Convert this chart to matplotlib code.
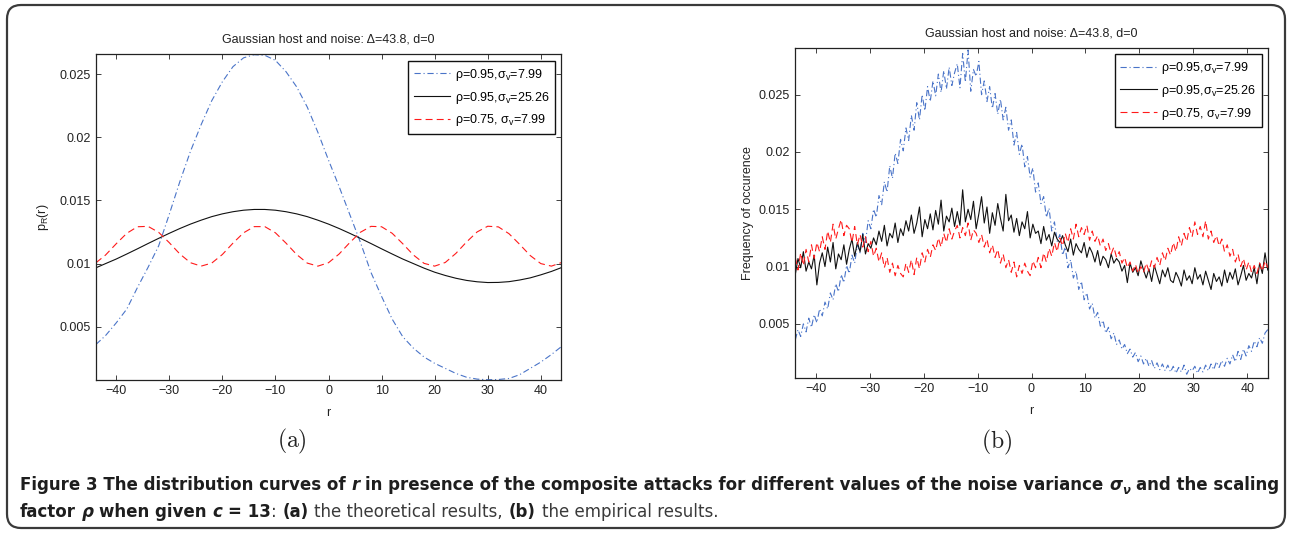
import os
import numpy as np
import matplotlib
matplotlib.use("Agg")
import matplotlib.pyplot as plt
from matplotlib import font_manager
from matplotlib.font_manager import FontProperties
from matplotlib.patches import FancyBboxPatch

# ---------------- data ----------------
title_text = "Gaussian host and noise: \u0394=43.8, d=0"
legend_labels = ["\u03c1=0.95,\u03c3$_{\\mathregular{v}}$=7.99",
                 "\u03c1=0.95,\u03c3$_{\\mathregular{v}}$=25.26",
                 "\u03c1=0.75, \u03c3$_{\\mathregular{v}}$=7.99"]
xticks = [-40, -30, -20, -10, 0, 10, 20, 30, 40]
yticks = [0.005, 0.01, 0.015, 0.02, 0.025]
ytick_labels = ["0.005", "0.01", "0.015", "0.02", "0.025"]

# theoretical curves (panel a)
r_theory = [-43.8, -42, -40, -38, -36, -34, -32, -30, -28, -26, -24, -22, -20, -18, -16,
            -14, -12, -10, -8, -6, -4, -2, 0, 2, 4, 6, 8, 10, 12, 14, 16, 18, 20, 22, 24,
            26, 28, 30, 32, 34, 36, 38, 40, 42, 43.8]
theory_blue = [0.0036, 0.0043, 0.0053, 0.0064, 0.0081, 0.0097, 0.0114, 0.0139, 0.0165,
               0.0189, 0.0210, 0.0229, 0.0244, 0.0256, 0.0263, 0.02655, 0.0265, 0.0261,
               0.0252, 0.0240, 0.0224, 0.0204, 0.0182, 0.0161, 0.0139, 0.0117, 0.0093,
               0.0074, 0.0056, 0.0042, 0.0033, 0.0026, 0.0021, 0.0017, 0.0013, 0.0010,
               0.00085, 0.0008, 0.00082, 0.0009, 0.0012, 0.0017, 0.0022, 0.0028, 0.0034]
theory_black = [0.00967, 0.01000, 0.01036, 0.01076, 0.01117, 0.01159, 0.01200, 0.01240,
                0.01278, 0.01313, 0.01344, 0.01372, 0.01394, 0.01411, 0.01423, 0.01429,
                0.01429, 0.01423, 0.01411, 0.01394, 0.01372, 0.01344, 0.01313, 0.01278,
                0.01240, 0.01200, 0.01159, 0.01117, 0.01076, 0.01036, 0.01000, 0.00964,
                0.00932, 0.00906, 0.00884, 0.00867, 0.00856, 0.00850, 0.00851, 0.00857,
                0.00870, 0.00887, 0.00911, 0.00938, 0.00967]
theory_red = [0.01007, 0.01068, 0.01157, 0.01240, 0.01292, 0.01295, 0.01248, 0.01166,
              0.01076, 0.01007, 0.00980, 0.01004, 0.01072, 0.01162, 0.01244, 0.01293,
              0.01293, 0.01244, 0.01162, 0.01072, 0.01004, 0.00980, 0.01007, 0.01076,
              0.01166, 0.01248, 0.01295, 0.01292, 0.01240, 0.01157, 0.01068, 0.01002,
              0.00980, 0.01009, 0.01081, 0.01171, 0.01251, 0.01296, 0.01291, 0.01237,
              0.01153, 0.01064, 0.01000, 0.00980, 0.01007]

# empirical frequencies (panel b), bins of width 0.5 from -43.75 to 43.75, in units of 1e-4
r_emp = np.arange(-43.75, 43.76, 0.5)
emp_blue_e4 = [36, 45, 39, 50, 43, 55, 47, 58, 51, 63,
               57, 69, 63, 77, 71, 85, 78, 93, 86, 101,
               94, 110, 103, 119, 112, 129, 121, 140, 133, 150,
               143, 162, 154, 174, 165, 188, 177, 199, 190, 211,
               201, 221, 210, 232, 219, 243, 228, 250, 236, 257,
               244, 262, 249, 268, 252, 271, 255, 274, 258, 269,
               277, 256, 286, 261, 289, 253, 272, 266, 279, 250,
               262, 244, 257, 238, 251, 233, 246, 228, 239, 219,
               228, 206, 217, 198, 207, 187, 196, 178, 186, 165,
               173, 155, 161, 143, 151, 131, 139, 122, 128, 110,
               117, 99, 106, 90, 96, 80, 87, 71, 77, 63,
               68, 55, 60, 48, 53, 42, 47, 37, 42, 32,
               36, 28, 32, 24, 28, 21, 25, 17, 22, 15,
               20, 13, 18, 11, 16, 10, 15, 9, 14, 8,
               13, 7, 12, 8, 14, 6, 11, 9, 13, 7,
               12, 8, 14, 9, 15, 10, 17, 12, 18, 13,
               20, 15, 23, 17, 26, 19, 28, 22, 31, 26,
               35, 30, 38, 33, 42, 45]
emp_black_e4 = [93, 107, 99, 113, 96, 104, 98, 110, 84, 103,
                112, 100, 117, 104, 121, 98, 111, 106, 119, 102,
                115, 124, 109, 121, 113, 128, 111, 120, 116, 125,
                119, 131, 122, 136, 118, 129, 125, 138, 121, 133,
                127, 140, 131, 145, 129, 138, 152, 126, 141, 133,
                146, 132, 149, 137, 158, 131, 144, 139, 151, 135,
                148, 136, 167, 139, 150, 141, 157, 133, 146, 161,
                138, 152, 129, 147, 136, 155, 142, 131, 163, 140,
                145, 130, 142, 127, 139, 133, 148, 125, 137, 129,
                131, 120, 135, 123, 128, 118, 130, 124, 121, 127,
                119, 113, 124, 110, 120, 115, 112, 121, 108, 117,
                112, 104, 114, 101, 109, 106, 99, 111, 103, 107,
                104, 96, 101, 86, 103, 95, 99, 92, 105, 97,
                90, 98, 87, 101, 93, 85, 97, 91, 99, 88,
                86, 95, 90, 83, 97, 88, 92, 85, 99, 89,
                93, 84, 96, 88, 80, 94, 87, 91, 83, 97,
                86, 95, 89, 98, 84, 92, 101, 88, 94, 90,
                99, 85, 103, 94, 112, 97]
emp_red_e4 = [108, 97, 112, 101, 115, 104, 119, 107, 121, 113,
              126, 115, 131, 121, 137, 124, 133, 141, 127, 136,
              133, 121, 135, 119, 128, 117, 126, 113, 122, 109,
              116, 104, 112, 99, 108, 95, 103, 92, 101, 94,
              91, 103, 95, 106, 93, 108, 98, 112, 104, 115,
              108, 119, 114, 125, 117, 129, 121, 133, 124, 131,
              136, 125, 134, 127, 138, 123, 132, 129, 121, 128,
              117, 124, 112, 119, 108, 115, 103, 111, 99, 106,
              95, 104, 91, 101, 94, 103, 96, 92, 105, 99,
              108, 99, 112, 104, 116, 109, 121, 113, 125, 118,
              129, 121, 133, 124, 137, 126, 134, 128, 136, 123,
              131, 122, 127, 118, 124, 114, 120, 111, 117, 108,
              113, 103, 108, 99, 104, 96, 102, 94, 100, 95,
              103, 96, 105, 99, 108, 101, 112, 105, 116, 110,
              121, 113, 126, 118, 129, 122, 134, 126, 139, 128,
              135, 126, 140, 124, 131, 121, 127, 118, 124, 113,
              119, 109, 115, 104, 111, 100, 107, 97, 104, 95,
              101, 94, 103, 96, 105, 99]

# ---------------- style ----------------
W, H = 1291, 533


def have_font(name):
    try:
        font_manager.findfont(FontProperties(family=name), fallback_to_default=False)
        return True
    except Exception:
        return False


SANS = "Liberation Sans" if have_font("Liberation Sans") else "DejaVu Sans"


def weight_num(w):
    if isinstance(w, (int, float)):
        return int(w)
    table = {"ultralight": 200, "light": 300, "normal": 400, "regular": 400, "book": 400,
             "medium": 500, "roman": 400, "semibold": 600, "demibold": 600, "demi": 600,
             "bold": 700, "heavy": 800, "extra bold": 800, "black": 900}
    return table.get(str(w).lower(), 400)


def find_condensed(bold, italic):
    prefs = ["liberation sans narrow", "dejavu sans", "open sans", "roboto", "noto sans", "lato"]
    best = None
    for f in font_manager.fontManager.ttflist:
        fn = os.path.basename(f.fname).lower()
        name = f.name.lower()
        if "mono" in fn or "serif" in fn or "mono" in name or "serif" in name:
            continue
        cond = ("narrow" in fn or "condensed" in fn or "narrow" in name or "condensed" in name
                or str(f.stretch) in ("condensed", "semi-condensed", "extra-condensed"))
        if not cond or "extra" in fn or "semi" in fn:
            continue
        fi = str(f.style) in ("italic", "oblique")
        if fi != italic:
            continue
        wt = weight_num(f.weight)
        target = 700 if bold else 400
        rank = 99
        for i, p in enumerate(prefs):
            if name.startswith(p):
                rank = i
                break
        score = (abs(wt - target), rank)
        if best is None or score < best[0]:
            best = (score, f.fname)
    if best is None or best[0][0] > 150:
        return None
    return best[1]


cap_files = {}
for key, (b, it) in {"bold": (True, False), "reg": (False, False),
                     "bolditalic": (True, True)}.items():
    cap_files[key] = find_condensed(b, it)
if cap_files["bolditalic"] is None:
    cap_files["bolditalic"] = cap_files["bold"]


def cap_props(kind, size):
    fpath = cap_files.get(kind)
    if fpath:
        return FontProperties(fname=fpath, size=size)
    weight = "bold" if kind in ("bold", "bolditalic") else "normal"
    style = "italic" if kind == "bolditalic" else "normal"
    return FontProperties(family=SANS, weight=weight, style=style, size=size)


plt.rcParams["font.family"] = [SANS, "DejaVu Sans"]
plt.rcParams["mathtext.fontset"] = "cm"
plt.rcParams["mathtext.default"] = "regular"
plt.rcParams["lines.scale_dashes"] = False

BLUE = "#4a74c8"
RED = "#ff1a1a"
BLACK = "#111111"
DASHDOT = (0, (4.5, 2.0, 0.8, 2.0))
DASHED = (0, (5.0, 3.0))

fig = plt.figure(figsize=(W / 100, H / 100), dpi=100)
fig.patch.set_facecolor("white")

axA = fig.add_axes([96 / W, 1 - 380 / H, 465 / W, (380 - 54.3) / H])
axB = fig.add_axes([795 / W, 1 - 378.3 / H, 473 / W, (378.3 - 47.7) / H])


def style_axes(ax, ylim):
    ax.set_xlim(-43.8, 43.8)
    ax.set_ylim(*ylim)
    ax.set_xticks(xticks)
    ax.set_xticklabels([str(t).replace("-", "\u2212") for t in xticks])
    ax.set_yticks(yticks)
    ax.set_yticklabels(ytick_labels)
    ax.tick_params(direction="in", top=True, right=True, length=3.5, width=0.6,
                   labelsize=9, pad=3.5, colors="#222222", labelcolor="#222222")
    for sp in ax.spines.values():
        sp.set_linewidth(0.9)
        sp.set_color("#222222")


# panel (a)
lw = 0.8
axA.plot(r_theory, theory_blue, color=BLUE, lw=lw, linestyle=DASHDOT, label=legend_labels[0])
axA.plot(r_theory, theory_black, color=BLACK, lw=lw, linestyle="-", label=legend_labels[1])
axA.plot(r_theory, theory_red, color=RED, lw=lw, linestyle=DASHED, label=legend_labels[2])
style_axes(axA, (0.00078, 0.02658))
axA.set_xlabel("r", fontsize=9, color="#222222")
axA.xaxis.set_label_coords(0.5, -0.083)
axA.set_ylabel(r"p$_{\mathregular{R}}$(r)", fontsize=9, color="#222222")
axA.yaxis.set_label_coords(-0.097, 0.5)

# panel (b)
axB.plot(r_emp, np.array(emp_blue_e4) * 1e-4, color=BLUE, lw=lw, linestyle=DASHDOT, label=legend_labels[0])
axB.plot(r_emp, np.array(emp_black_e4) * 1e-4, color=BLACK, lw=lw, linestyle="-", label=legend_labels[1])
axB.plot(r_emp, np.array(emp_red_e4) * 1e-4, color=RED, lw=lw, linestyle=DASHED, label=legend_labels[2])
style_axes(axB, (0.00025, 0.0291))
axB.set_xlabel("r", fontsize=9, color="#222222")
axB.xaxis.set_label_coords(0.5, -0.081)
axB.set_ylabel("Frequency of occurence", fontsize=9, color="#222222")
axB.yaxis.set_label_coords(-0.087, 0.5)

# titles
fig.text(328.5 / W, 1 - 40 / H, title_text, ha="center", va="center", fontsize=9, color="#222222")
fig.text(1031.5 / W, 1 - 33 / H, title_text, ha="center", va="center", fontsize=9, color="#222222")

# legends
for ax, (xr, yt) in ((axA, (555, 61)), (axB, (1261.5, 54.3))):
    leg = ax.legend(loc="upper right", bbox_to_anchor=(xr / W, 1 - yt / H),
                    bbox_transform=fig.transFigure, fancybox=False, framealpha=1,
                    edgecolor="#111111", fontsize=9, borderaxespad=0, borderpad=0.45,
                    handlelength=2.9, handletextpad=0.35, labelspacing=0.55)
    leg.get_frame().set_linewidth(1.0)

# sub-figure labels
fig.text(291.5 / W, 1 - 441 / H, r"$\mathrm{(a)}$", ha="center", va="center", fontsize=17, color="#222222")
fig.text(997 / W, 1 - 442 / H, r"$\mathrm{(b)}$", ha="center", va="center", fontsize=17, color="#222222")

# rounded border
border = FancyBboxPatch((7, 5), 1278, 523, boxstyle="round,pad=0,rounding_size=14",
                        transform=None, fill=False, edgecolor="#3a3a3a", linewidth=1.6)
fig.patches.append(border)

# caption with mixed styles: (text, kind, baseline shift px, size scale, space before)
renderer = fig.canvas.get_renderer()
line1 = [("Figure 3 The distribution curves of", "bold", 0, 1.0, True),
         ("r", "bolditalic", 0, 1.0, True),
         ("in presence of the composite attacks for different values of the noise variance", "bold", 0, 1.0, True),
         ("\u03c3", "bolditalic", 0, 1.0, True),
         ("\u03bd", "bolditalic", 4, 0.7, False),
         ("and the scaling", "bold", 0, 1.0, True)]
line2 = [("factor", "bold", 0, 1.0, True),
         ("\u03c1", "bolditalic", 0, 1.0, True),
         ("when given", "bold", 0, 1.0, True),
         ("c", "bolditalic", 0, 1.0, True),
         ("= 13", "bold", 0, 1.0, True),
         (":", "reg", 0, 1.0, False),
         ("(a)", "bold", 0, 1.0, True),
         ("the theoretical results,", "reg", 0, 1.0, True),
         ("(b)", "bold", 0, 1.0, True),
         ("the empirical results.", "reg", 0, 1.0, True)]


def text_width(s, kind, size):
    t = fig.text(0, 0, s, fontproperties=cap_props(kind, size))
    w = t.get_window_extent(renderer).width
    t.remove()
    return w


def draw_line(runs, x0, ybase, size, draw=True):
    x = x0
    space = text_width("a a", "bold", size) - text_width("aa", "bold", size)
    for i, (s, kind, dy, sc, sp) in enumerate(runs):
        if i > 0 and sp:
            x += space
        if draw:
            fig.text(x / W, 1 - (ybase + dy) / H, s, fontproperties=cap_props(kind, size * sc),
                     va="baseline", ha="left",
                     color="#1e1e1e" if kind != "reg" else "#3a3a3a")
        x += text_width(s, kind, size * sc)
    return x


base_size = 12.0
w1 = draw_line(line1, 0, 0, base_size, draw=False)
cap_size = base_size * (1278 - 20) / w1
draw_line(line1, 20, 490, cap_size)
draw_line(line2, 20, 517, cap_size)

fig.savefig("out.png", dpi=100, facecolor="white")
